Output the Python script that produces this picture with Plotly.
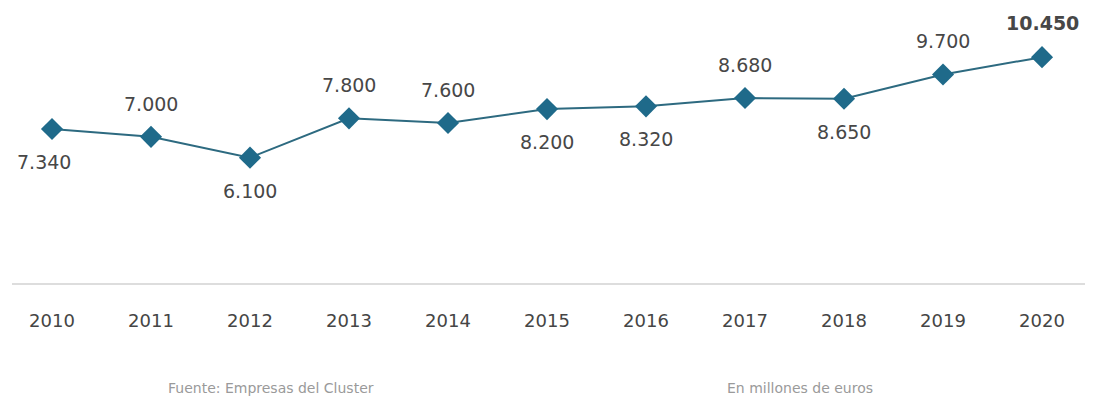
import plotly.graph_objects as go

years = [2010, 2011, 2012, 2013, 2014, 2015, 2016, 2017, 2018, 2019, 2020]
values = [7340, 7000, 6100, 7800, 7600, 8200, 8320, 8680, 8650, 9700, 10450]
labels = ["7.340", "7.000", "6.100", "7.800", "7.600", "8.200", "8.320", "8.680", "8.650", "9.700", "10.450"]
label_side = ["below", "above", "below", "above", "above", "below", "below", "above", "below", "above", "above"]

FONT = "DejaVu Sans, sans-serif"

fig = go.Figure()
fig.add_trace(go.Scatter(
    x=years, y=values, mode="lines+markers",
    line=dict(color="#2d6a80", width=2),
    marker=dict(symbol="diamond", size=17, color="#1f6a8a"),
    hoverinfo="skip", showlegend=False,
))

for i, (x, y, t, s) in enumerate(zip(years, values, labels, label_side)):
    bold = (i == len(years) - 1)
    fig.add_annotation(
        x=x, y=y, text=f"<b>{t}</b>" if bold else t, showarrow=False,
        yshift=(33 if s == "above" else -33) if not bold else 34,
        xshift=-8 if i == 0 else 0,
        font=dict(family=FONT, size=19, color="#474747"),
    )

fig.add_annotation(xref="paper", yref="paper", x=(271 - 12) / 1073, y=-105 / 263,
                   xanchor="center", yanchor="middle",
                   text="Fuente: Empresas del Cluster", showarrow=False,
                   font=dict(family=FONT, size=14, color="#9a9a9a"))
fig.add_annotation(xref="paper", yref="paper", x=(800 - 12) / 1073, y=-105 / 263,
                   xanchor="center", yanchor="middle",
                   text="En millones de euros", showarrow=False,
                   font=dict(family=FONT, size=14, color="#9a9a9a"))

fig.update_layout(
    width=1096, height=401,
    margin=dict(l=12, r=11, t=20, b=118),
    plot_bgcolor="white", paper_bgcolor="white",
    xaxis=dict(range=[2009.596, 2020.434], tickvals=years, ticktext=[str(y) for y in years],
               showgrid=False, zeroline=False, showline=True, linecolor="#dddddd", linewidth=2,
               ticklabelstandoff=20,
               tickfont=dict(family=FONT, size=18, color="#454545")),
    yaxis=dict(range=[673, 12058], visible=False, showgrid=False, zeroline=False),
)

fig.write_html("out.html")
